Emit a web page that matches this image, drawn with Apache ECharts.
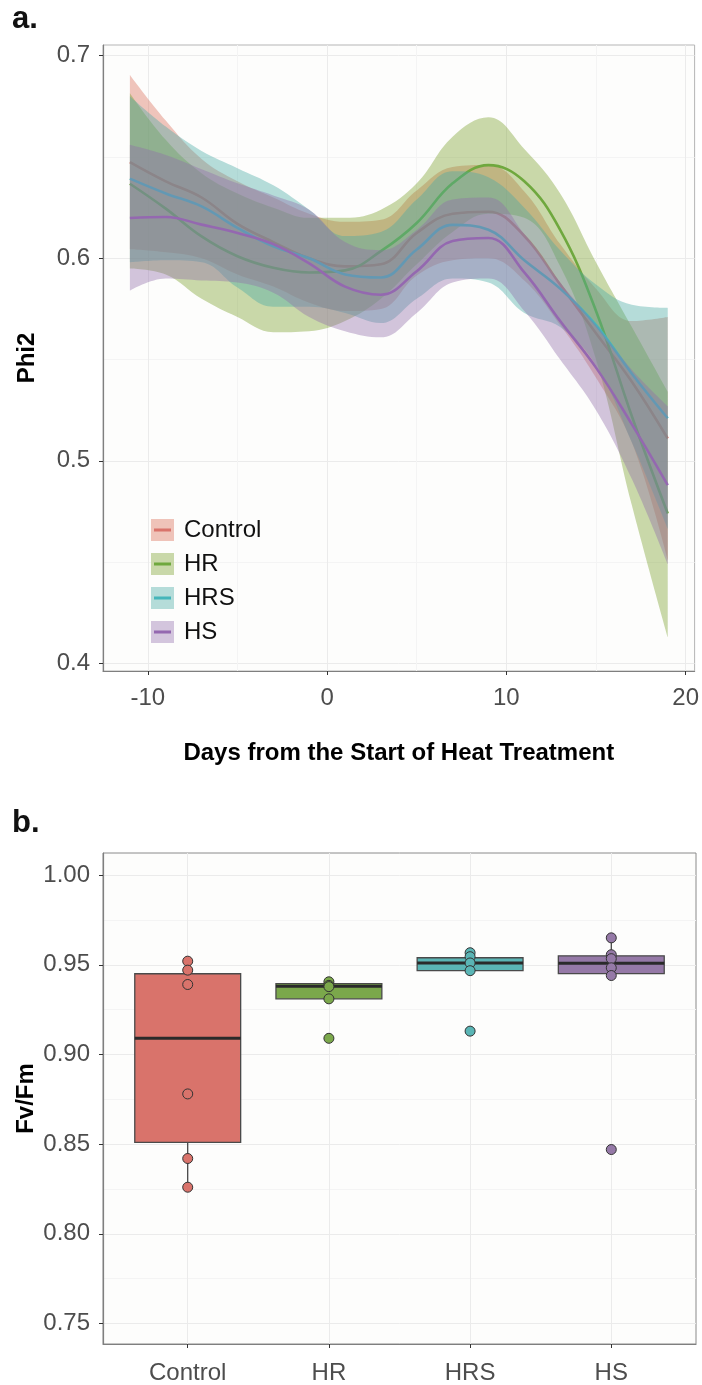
<!DOCTYPE html>
<html>
<head>
<meta charset="utf-8">
<script src="https://cdn.jsdelivr.net/npm/echarts@6/dist/echarts.min.js"></script>
<style>
  html, body { margin: 0; padding: 0; background: #fff; }
  #chart { width: 702px; height: 1385px; }
</style>
</head>
<body>
<div id="chart"></div>
<script>
  // ---- panel a: loess fits (mean + 95% band) ----
  const days = [-11, -9, -7, -5, -3, -1, 1, 3, 5, 7, 9, 11, 13, 15, 17, 19];

  const controlMean = [0.6475, 0.638, 0.630, 0.617, 0.608, 0.600, 0.596, 0.597, 0.6125, 0.622, 0.623, 0.611, 0.587, 0.563, 0.539, 0.511];
  const controlLo   = [0.6045, 0.603, 0.600, 0.592, 0.586, 0.578, 0.574, 0.575, 0.5915, 0.599, 0.600, 0.589, 0.567, 0.541, 0.509, 0.451];
  const controlHi   = [0.6905, 0.668, 0.649, 0.638, 0.630, 0.622, 0.618, 0.619, 0.6335, 0.645, 0.646, 0.633, 0.607, 0.585, 0.569, 0.571];

  const hrMean = [0.6368, 0.6245, 0.6108, 0.601, 0.5953, 0.593, 0.594, 0.6035, 0.6174, 0.637, 0.646, 0.638, 0.614, 0.574, 0.522, 0.474];
  const hrLo   = [0.595, 0.592, 0.580, 0.571, 0.5635, 0.564, 0.569, 0.580, 0.597, 0.613, 0.622, 0.620, 0.596, 0.550, 0.478, 0.413];
  const hrHi   = [0.6815, 0.6585, 0.642, 0.632, 0.625, 0.620, 0.620, 0.624, 0.637, 0.660, 0.6696, 0.654, 0.632, 0.598, 0.566, 0.534];

  const hrsMean = [0.6393, 0.632, 0.6256, 0.615, 0.6059, 0.600, 0.592, 0.5905, 0.6043, 0.6165, 0.6141, 0.599, 0.585, 0.567, 0.543, 0.521];
  const hrsLo   = [0.598, 0.599, 0.598, 0.5855, 0.576, 0.576, 0.573, 0.568, 0.580, 0.590, 0.588, 0.573, 0.566, 0.547, 0.509, 0.4665];
  const hrsHi   = [0.680, 0.665, 0.653, 0.6445, 0.636, 0.624, 0.611, 0.613, 0.629, 0.643, 0.640, 0.625, 0.604, 0.587, 0.577, 0.5755];

  const hsMean = [0.6199, 0.6204, 0.6166, 0.6125, 0.607, 0.5975, 0.586, 0.582, 0.5936, 0.6085, 0.610, 0.593, 0.569, 0.546, 0.518, 0.488];
  const hsLo   = [0.584, 0.590, 0.589, 0.588, 0.583, 0.571, 0.564, 0.561, 0.573, 0.588, 0.590, 0.574, 0.550, 0.525, 0.491, 0.449];
  const hsHi   = [0.656, 0.651, 0.644, 0.637, 0.631, 0.624, 0.608, 0.604, 0.614, 0.629, 0.630, 0.612, 0.588, 0.567, 0.545, 0.527];

  const dayTicks = [-10, 0, 10, 20];
  const dayMinor = [-5, 5, 15];
  const phiTicks = [0.4, 0.5, 0.6, 0.7];
  const phiMinor = [0.45, 0.55, 0.65];

  // ---- panel b: Fv/Fm boxplots ----
  const groups = ['Control', 'HR', 'HRS', 'HS'];
  // lower whisker, Q1, median, Q3, upper whisker
  const boxStats = [
    [0.826, 0.851, 0.909, 0.945, 0.952],
    [0.931, 0.931, 0.938, 0.9395, 0.9405],
    [0.9467, 0.9467, 0.951, 0.9539, 0.9567],
    [0.944, 0.9451, 0.9509, 0.955, 0.965]
  ];
  const controlPts = [0.952, 0.947, 0.939, 0.878, 0.842, 0.826];
  const hrPts = [0.9405, 0.9385, 0.9378, 0.931, 0.909];
  const hrsPts = [0.9567, 0.9545, 0.951, 0.9467, 0.913];
  const hsPts = [0.965, 0.9556, 0.9534, 0.9483, 0.944, 0.847];
  const fvTicks = [0.75, 0.80, 0.85, 0.90, 0.95, 1.00];
  const fvMinor = [0.775, 0.825, 0.875, 0.925, 0.975];

  const bandColors = ['#D96E5A', '#7A9F2E', '#48AAA6', '#916EAA'];
  const lineColors = ['#D9736B', '#6FA83E', '#45B5BA', '#9468B0'];
  const keyFills = ['#efc3b9', '#c9d8a9', '#b5dcd9', '#d3c5dd'];
  const boxColors = ['#D9736B', '#7BA84B', '#5AB5B5', '#9579A7'];

  const FONT = '"Liberation Sans", Arial, sans-serif';

  let chart = echarts.init(document.getElementById('chart'), null, {renderer: 'canvas'});

  // 画带状置信区间 + 拟合线
  // band data is [value, day] so that the stack runs on the y dimension
  // z keeps ggplot's layering: each group's ribbon covers the earlier groups' lines
  function smoothSeries(name, idx, mean, lo, hi) {
    return [
      {
        name: name + ' lo', type: 'line', stack: name, smooth: 0.4, symbol: 'none', silent: true,
        z: 2 + idx * 2,
        data: days.map((d, i) => [lo[i], d]),
        encode: {x: 1, y: 0},
        lineStyle: {opacity: 0}
      },
      {
        name: name, type: 'line', stack: name, smooth: 0.4, symbol: 'none', silent: true,
        z: 2 + idx * 2,
        data: days.map((d, i) => [+(hi[i] - lo[i]).toFixed(4), d]),
        encode: {x: 1, y: 0},
        lineStyle: {opacity: 0},
        areaStyle: {color: bandColors[idx], opacity: 0.4}
      },
      {
        name: name, type: 'line', smooth: 0.4, symbol: 'none', silent: true,
        z: 3 + idx * 2,
        data: days.map((d, i) => [d, mean[i]]),
        lineStyle: {color: lineColors[idx], width: 2.6}
      }
    ];
  }

  function keyIcon(i) {
    let svg = "<svg xmlns='http://www.w3.org/2000/svg' width='23' height='22'>" +
      "<rect width='23' height='22' fill='" + keyFills[i] + "'/>" +
      "<rect x='3' y='9.5' width='17' height='3' fill='" + lineColors[i] + "'/></svg>";
    return 'image://data:image/svg+xml;charset=utf-8,' + encodeURIComponent(svg);
  }

  const allPts = [controlPts, hrPts, hrsPts, hsPts];
  const scatterData = [];
  allPts.forEach((pts, g) => {
    pts.forEach(v => scatterData.push({value: [g, v], itemStyle: {color: boxColors[g]}}));
  });

  const tickLabel = {fontSize: 24, color: '#4d4d4d', fontFamily: FONT};
  const axisTitle = {fontSize: 24, fontWeight: 'bold', color: '#000', fontFamily: FONT};

  chart.setOption({
    backgroundColor: '#fff',
    animation: false,
    graphic: [
      {type: 'text', left: 12, top: 4, style: {text: 'a.', font: 'bold 31px ' + FONT, fill: '#111'}},
      {type: 'text', left: 12, top: 808, style: {text: 'b.', font: 'bold 31px ' + FONT, fill: '#111'}}
    ],
    legend: {
      orient: 'vertical', left: 151, top: 518, padding: 0,
      itemWidth: 23, itemHeight: 22, itemGap: 10,
      selectedMode: false,
      textStyle: {fontSize: 24, color: '#111', fontFamily: FONT, padding: [0, 0, 0, 5]},
      data: groups.map((g, i) => ({name: g, icon: keyIcon(i)}))
    },
    grid: [
      {left: 103, top: 45, width: 593, height: 626, show: true, backgroundColor: '#fdfdfc', borderColor: '#b5b5b5', borderWidth: 1},
      {left: 103, top: 853, width: 593, height: 491, show: true, backgroundColor: '#fdfdfc', borderColor: '#8a8a8a', borderWidth: 1}
    ],
    xAxis: [
      {
        gridIndex: 0, type: 'value', min: -12.5, max: 20.5,
        name: 'Days from the Start of Heat Treatment', nameLocation: 'middle', nameGap: 70, nameTextStyle: axisTitle,
        axisLine: {show: true, onZero: false, lineStyle: {color: '#7f7f7f', width: 1.2}},
        axisTick: {customValues: dayTicks, length: 4, lineStyle: {color: '#333'}},
        axisLabel: Object.assign({customValues: dayTicks, margin: 15}, tickLabel),
        splitLine: {show: true, lineStyle: {color: '#ebebeb', width: 1}}
      },
      {
        gridIndex: 0, type: 'value', min: -12.5, max: 20.5,
        axisLine: {show: false}, axisLabel: {show: false},
        axisTick: {show: false, customValues: dayMinor},
        splitLine: {show: true, lineStyle: {color: '#f4f4f4', width: 1}}
      },
      {
        gridIndex: 1, type: 'value', min: -0.6, max: 3.6,
        axisLine: {show: true, onZero: false, lineStyle: {color: '#7f7f7f', width: 1.2}},
        axisTick: {customValues: [0, 1, 2, 3], length: 4, lineStyle: {color: '#333'}},
        axisLabel: Object.assign({customValues: [0, 1, 2, 3], margin: 17, formatter: v => groups[Math.round(v)]}, tickLabel),
        splitLine: {show: true, lineStyle: {color: '#ebebeb', width: 1}}
      }
    ],
    yAxis: [
      {
        gridIndex: 0, type: 'value', min: 0.3962, max: 0.7053,
        name: 'Phi2', nameLocation: 'middle', nameGap: 64, nameMoveOverlap: false, nameTextStyle: axisTitle,
        axisLine: {show: true, onZero: false, lineStyle: {color: '#7f7f7f', width: 1.2}},
        axisTick: {customValues: phiTicks, length: 4, lineStyle: {color: '#333'}},
        axisLabel: Object.assign({customValues: phiTicks, margin: 13, formatter: v => v.toFixed(1)}, tickLabel),
        splitLine: {show: true, lineStyle: {color: '#ebebeb', width: 1}}
      },
      {
        gridIndex: 0, type: 'value', min: 0.3962, max: 0.7053,
        axisLine: {show: false, onZero: false}, axisLabel: {show: false},
        axisTick: {show: false, customValues: phiMinor},
        splitLine: {show: true, lineStyle: {color: '#f4f4f4', width: 1}}
      },
      {
        gridIndex: 1, type: 'value', min: 0.7386, max: 1.0123,
        name: 'Fv/Fm', nameLocation: 'middle', nameGap: 65, nameMoveOverlap: false, nameTextStyle: axisTitle,
        axisLine: {show: true, onZero: false, lineStyle: {color: '#7f7f7f', width: 1.2}},
        axisTick: {customValues: fvTicks, length: 4, lineStyle: {color: '#333'}},
        axisLabel: Object.assign({customValues: fvTicks, margin: 13, formatter: v => v.toFixed(2)}, tickLabel),
        splitLine: {show: true, lineStyle: {color: '#ebebeb', width: 1}}
      },
      {
        gridIndex: 1, type: 'value', min: 0.7386, max: 1.0123,
        axisLine: {show: false, onZero: false}, axisLabel: {show: false},
        axisTick: {show: false, customValues: fvMinor},
        splitLine: {show: true, lineStyle: {color: '#f4f4f4', width: 1}}
      }
    ],
    series: [].concat(
      smoothSeries('Control', 0, controlMean, controlLo, controlHi),
      smoothSeries('HR', 1, hrMean, hrLo, hrHi),
      smoothSeries('HRS', 2, hrsMean, hrsLo, hrsHi),
      smoothSeries('HS', 3, hsMean, hsLo, hsHi),
      [
        {
          name: 'box', type: 'custom', xAxisIndex: 2, yAxisIndex: 2, silent: true,
          data: boxStats.map((s, g) => [g].concat(s)),
          encode: {x: 0, y: [1, 2, 3, 4, 5]},
          renderItem: function (params, api) {
            let x = api.value(0);
            let lo = api.coord([x, api.value(1)]);
            let q1 = api.coord([x, api.value(2)]);
            let med = api.coord([x, api.value(3)]);
            let q3 = api.coord([x, api.value(4)]);
            let hi = api.coord([x, api.value(5)]);
            let w = api.size([1, 0])[0] * 0.75;
            return {
              type: 'group',
              children: [
                {type: 'line', shape: {x1: lo[0], y1: lo[1], x2: q1[0], y2: q1[1]}, style: {stroke: '#3a3a3a', lineWidth: 1.2}},
                {type: 'line', shape: {x1: q3[0], y1: q3[1], x2: hi[0], y2: hi[1]}, style: {stroke: '#3a3a3a', lineWidth: 1.2}},
                {type: 'rect', shape: {x: q3[0] - w / 2, y: q3[1], width: w, height: q1[1] - q3[1]},
                  style: {fill: boxColors[params.dataIndex], stroke: '#4a4a4a', lineWidth: 1.3}},
                {type: 'line', shape: {x1: med[0] - w / 2, y1: med[1], x2: med[0] + w / 2, y2: med[1]},
                  style: {stroke: '#2a2a2a', lineWidth: 3}}
              ]
            };
          }
        },
        {
          name: 'points', type: 'scatter', xAxisIndex: 2, yAxisIndex: 2, silent: true,
          symbol: 'circle', symbolSize: 10,
          itemStyle: {borderColor: '#333', borderWidth: 1, opacity: 1},
          data: scatterData
        }
      ]
    )
  });
</script>
</body>
</html>
